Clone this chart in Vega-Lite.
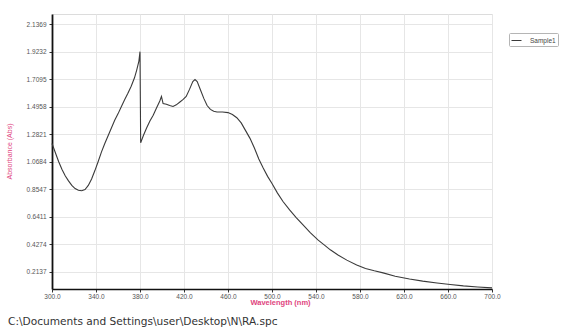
{
  "$schema": "https://vega.github.io/schema/vega-lite/v6.json",
  "width": 440,
  "height": 275,
  "autosize": "none",
  "padding": {"left": 52, "top": 14, "right": 74, "bottom": 42},
  "background": "white",
  "config": {
    "font": "Liberation Sans",
    "view": {"stroke": "#dcdcdc", "strokeWidth": 1}
  },
  "title": {
    "text": "C:\\Documents and Settings\\user\\Desktop\\N\\RA.spc",
    "orient": "bottom",
    "anchor": "start",
    "frame": "group",
    "dx": -44,
    "offset": 11,
    "fontSize": 10.6,
    "fontWeight": "normal",
    "font": "DejaVu Sans",
    "color": "#333333"
  },
  "data": {
    "values": [
      {"wl": 300, "abs": 1.21, "series": "Sample1"},
      {"wl": 303, "abs": 1.14, "series": "Sample1"},
      {"wl": 306, "abs": 1.07, "series": "Sample1"},
      {"wl": 309, "abs": 1.01, "series": "Sample1"},
      {"wl": 312, "abs": 0.96, "series": "Sample1"},
      {"wl": 315, "abs": 0.92, "series": "Sample1"},
      {"wl": 318, "abs": 0.885, "series": "Sample1"},
      {"wl": 321, "abs": 0.86, "series": "Sample1"},
      {"wl": 324, "abs": 0.847, "series": "Sample1"},
      {"wl": 327, "abs": 0.843, "series": "Sample1"},
      {"wl": 330, "abs": 0.853, "series": "Sample1"},
      {"wl": 333, "abs": 0.885, "series": "Sample1"},
      {"wl": 336, "abs": 0.935, "series": "Sample1"},
      {"wl": 339, "abs": 1.0, "series": "Sample1"},
      {"wl": 342, "abs": 1.07, "series": "Sample1"},
      {"wl": 345, "abs": 1.145, "series": "Sample1"},
      {"wl": 348, "abs": 1.21, "series": "Sample1"},
      {"wl": 351, "abs": 1.27, "series": "Sample1"},
      {"wl": 354, "abs": 1.33, "series": "Sample1"},
      {"wl": 357, "abs": 1.39, "series": "Sample1"},
      {"wl": 360, "abs": 1.44, "series": "Sample1"},
      {"wl": 363, "abs": 1.495, "series": "Sample1"},
      {"wl": 366, "abs": 1.55, "series": "Sample1"},
      {"wl": 369, "abs": 1.6, "series": "Sample1"},
      {"wl": 372, "abs": 1.655, "series": "Sample1"},
      {"wl": 375, "abs": 1.72, "series": "Sample1"},
      {"wl": 377, "abs": 1.78, "series": "Sample1"},
      {"wl": 379, "abs": 1.85, "series": "Sample1"},
      {"wl": 380, "abs": 1.923, "series": "Sample1"},
      {"wl": 380.6, "abs": 1.215, "series": "Sample1"},
      {"wl": 383, "abs": 1.27, "series": "Sample1"},
      {"wl": 386, "abs": 1.33, "series": "Sample1"},
      {"wl": 389, "abs": 1.385, "series": "Sample1"},
      {"wl": 392, "abs": 1.43, "series": "Sample1"},
      {"wl": 395, "abs": 1.485, "series": "Sample1"},
      {"wl": 398, "abs": 1.54, "series": "Sample1"},
      {"wl": 399.5, "abs": 1.575, "series": "Sample1"},
      {"wl": 401, "abs": 1.52, "series": "Sample1"},
      {"wl": 404, "abs": 1.515, "series": "Sample1"},
      {"wl": 407, "abs": 1.505, "series": "Sample1"},
      {"wl": 410, "abs": 1.497, "series": "Sample1"},
      {"wl": 413, "abs": 1.51, "series": "Sample1"},
      {"wl": 416, "abs": 1.53, "series": "Sample1"},
      {"wl": 419, "abs": 1.55, "series": "Sample1"},
      {"wl": 422, "abs": 1.575, "series": "Sample1"},
      {"wl": 425, "abs": 1.63, "series": "Sample1"},
      {"wl": 428, "abs": 1.69, "series": "Sample1"},
      {"wl": 430, "abs": 1.706, "series": "Sample1"},
      {"wl": 432, "abs": 1.69, "series": "Sample1"},
      {"wl": 435, "abs": 1.625, "series": "Sample1"},
      {"wl": 438, "abs": 1.56, "series": "Sample1"},
      {"wl": 441, "abs": 1.505, "series": "Sample1"},
      {"wl": 444, "abs": 1.475, "series": "Sample1"},
      {"wl": 447, "abs": 1.46, "series": "Sample1"},
      {"wl": 450, "abs": 1.455, "series": "Sample1"},
      {"wl": 455, "abs": 1.455, "series": "Sample1"},
      {"wl": 460, "abs": 1.45, "series": "Sample1"},
      {"wl": 464, "abs": 1.435, "series": "Sample1"},
      {"wl": 468, "abs": 1.41, "series": "Sample1"},
      {"wl": 472, "abs": 1.37, "series": "Sample1"},
      {"wl": 476, "abs": 1.31, "series": "Sample1"},
      {"wl": 480, "abs": 1.25, "series": "Sample1"},
      {"wl": 484, "abs": 1.175, "series": "Sample1"},
      {"wl": 488, "abs": 1.09, "series": "Sample1"},
      {"wl": 492, "abs": 1.02, "series": "Sample1"},
      {"wl": 496, "abs": 0.955, "series": "Sample1"},
      {"wl": 500, "abs": 0.9, "series": "Sample1"},
      {"wl": 505, "abs": 0.825, "series": "Sample1"},
      {"wl": 510, "abs": 0.76, "series": "Sample1"},
      {"wl": 516, "abs": 0.695, "series": "Sample1"},
      {"wl": 522, "abs": 0.635, "series": "Sample1"},
      {"wl": 528, "abs": 0.58, "series": "Sample1"},
      {"wl": 535, "abs": 0.517, "series": "Sample1"},
      {"wl": 542, "abs": 0.46, "series": "Sample1"},
      {"wl": 548, "abs": 0.42, "series": "Sample1"},
      {"wl": 553, "abs": 0.385, "series": "Sample1"},
      {"wl": 560, "abs": 0.345, "series": "Sample1"},
      {"wl": 568, "abs": 0.305, "series": "Sample1"},
      {"wl": 577, "abs": 0.268, "series": "Sample1"},
      {"wl": 585, "abs": 0.24, "series": "Sample1"},
      {"wl": 593, "abs": 0.222, "series": "Sample1"},
      {"wl": 601, "abs": 0.206, "series": "Sample1"},
      {"wl": 612, "abs": 0.18, "series": "Sample1"},
      {"wl": 625, "abs": 0.159, "series": "Sample1"},
      {"wl": 637, "abs": 0.142, "series": "Sample1"},
      {"wl": 650, "abs": 0.128, "series": "Sample1"},
      {"wl": 662, "abs": 0.116, "series": "Sample1"},
      {"wl": 674, "abs": 0.105, "series": "Sample1"},
      {"wl": 687, "abs": 0.097, "series": "Sample1"},
      {"wl": 700, "abs": 0.09, "series": "Sample1"}
    ]
  },
  "layer": [
    {
      "mark": {"type": "line", "strokeWidth": 1.1, "interpolate": "linear"},
      "encoding": {
        "x": {
          "field": "wl",
          "type": "quantitative",
          "scale": {"domain": [300, 700], "nice": false, "zero": false},
          "axis": {
            "values": [300, 340, 380, 420, 460, 500, 540, 580, 620, 660, 700],
            "format": ".1f",
            "labelFlush": false,
            "labelOverlap": false,
            "labelFontSize": 6.5,
            "labelColor": "#555555",
            "labelPadding": 1,
            "tickSize": 3,
            "tickColor": "#333333",
            "domainColor": "#111111",
            "domainWidth": 1.5,
            "gridColor": "#e6e6e6",
            "title": "Wavelength (nm)",
            "titleColor": "#e0447e",
            "titleFontSize": 7.5,
            "titleFontWeight": "bold",
            "titlePadding": -1,
            "titleX": 228
          }
        },
        "y": {
          "field": "abs",
          "type": "quantitative",
          "scale": {"domain": [0.081, 2.215], "nice": false, "zero": false},
          "axis": {
            "values": [0.2137, 0.4274, 0.6411, 0.8547, 1.0684, 1.2821, 1.4958, 1.7095, 1.9232, 2.1369],
            "format": ".4f",
            "labelFlush": false,
            "labelOverlap": false,
            "labelFontSize": 6.5,
            "labelColor": "#555555",
            "labelPadding": 3,
            "tickSize": 3,
            "tickColor": "#333333",
            "domainColor": "#111111",
            "domainWidth": 1.8,
            "gridColor": "#e6e6e6",
            "title": "Absorbance (Abs)",
            "titleColor": "#e0447e",
            "titleFontSize": 7,
            "titleFontWeight": "normal",
            "titleX": -43,
            "titleY": 137,
            "titleAngle": -90,
            "titleAlign": "center",
            "titleBaseline": "middle"
          }
        },
        "color": {
          "field": "series",
          "type": "nominal",
          "scale": {"domain": ["Sample1"], "range": ["#3a3a3a"]},
          "legend": {
            "orient": "none",
            "legendX": 457,
            "legendY": 19,
            "title": null,
            "symbolType": "stroke",
            "symbolSize": 100,
            "symbolStrokeWidth": 1,
            "labelFontSize": 6.5,
            "labelColor": "#444444",
            "labelOffset": 8,
            "strokeColor": "#b5b5b5",
            "fillColor": "#ffffff",
            "padding": 2,
            "cornerRadius": 1
          }
        }
      }
    }
  ]
}
